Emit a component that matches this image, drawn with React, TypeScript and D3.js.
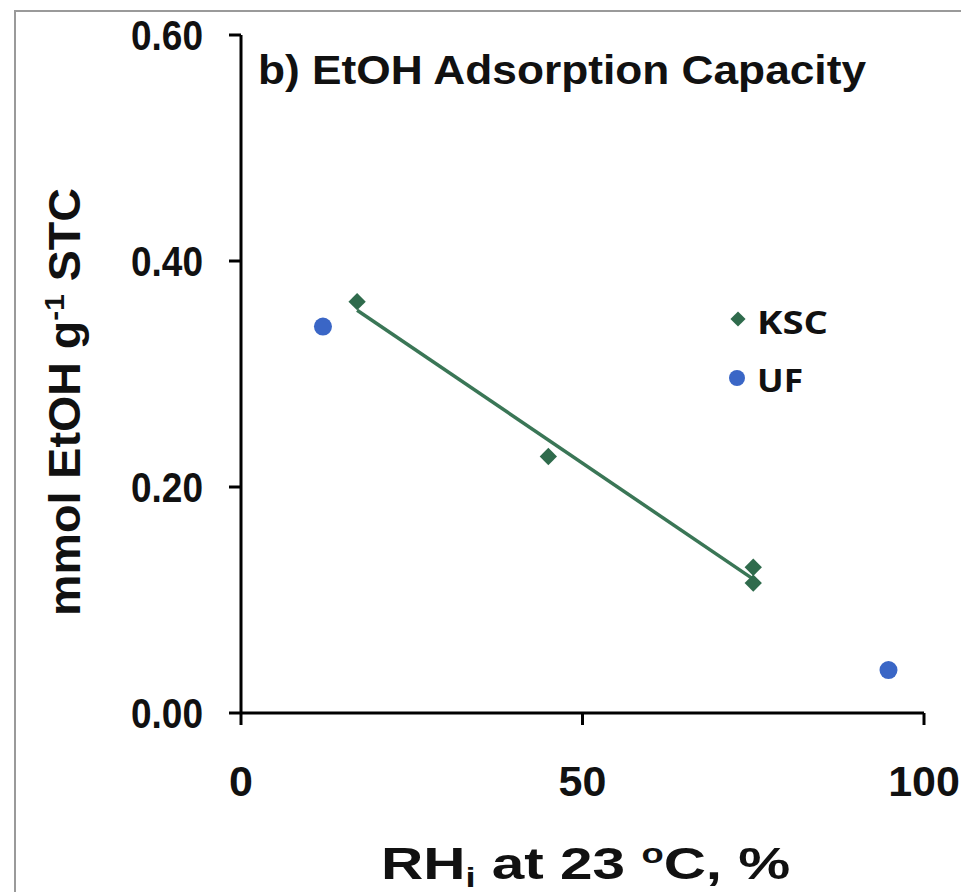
import React from "react";
import * as d3 from "d3";

const kscX = [17, 45, 75, 75];
const kscY = [0.364, 0.227, 0.129, 0.115];
const ufX = [12, 94.8];
const ufY = [0.342, 0.038];
const xTicks = [0, 50, 100];
const yTicks = [0, 0.2, 0.4, 0.6];
const legendLabels = ["KSC", "UF"];

const W = 961;
const H = 892;
const GREEN = "#2f6b4c";
const BLUE = "#3a66c6";
const FONT = "'Liberation Sans', Arial, sans-serif";
const LFONT = "'Open Sans', 'Liberation Sans', sans-serif";

export default function App() {
  const x = d3.scaleLinear().domain([0, 100]).range([241, 924]);
  const y = d3.scaleLinear().domain([0, 0.6]).range([713, 35]);

  // linear regression for KSC trend line
  const n = kscX.length;
  const mx = d3.mean(kscX) as number;
  const my = d3.mean(kscY) as number;
  let sxy = 0, sxx = 0;
  for (let i = 0; i < n; i++) {
    sxy += (kscX[i] - mx) * (kscY[i] - my);
    sxx += (kscX[i] - mx) ** 2;
  }
  const slope = sxy / sxx;
  const icpt = my - slope * mx;
  const [x0, x1] = d3.extent(kscX) as [number, number];
  const lineGen = d3
    .line<number>()
    .x((d) => x(d))
    .y((d) => y(icpt + slope * d));

  const diamond = d3.symbol().type(d3.symbolSquare).size(150)() as string;
  const diamondL = d3.symbol().type(d3.symbolSquare).size(115)() as string;

  return (
    <svg
      width={W}
      height={H}
      style={{ position: "absolute", left: 0, top: 0, display: "block", background: "#fff" }}
    >
      <rect x={0} y={0} width={W} height={H} fill="#fff" />
      {/* scan border */}
      <path d={`M15,${H} L15,11 L${W},11`} fill="none" stroke="#9a9a9a" strokeWidth={2} />

      {/* axes */}
      <line x1={x(0)} x2={x(100)} y1={y(0)} y2={y(0)} stroke="#000" strokeWidth={3} />
      <line x1={x(0)} x2={x(0)} y1={y(0)} y2={y(0.6)} stroke="#000" strokeWidth={3} />
      {xTicks.map((t) => (
        <g key={"xt" + t}>
          <line x1={x(t)} x2={x(t)} y1={y(0)} y2={y(0) + 12} stroke="#000" strokeWidth={3} />
          <text
            x={x(t)}
            y={796}
            textAnchor="middle"
            fontFamily={FONT}
            fontWeight="bold"
            fontSize={43}
            fill="#111"
          >
            {t}
          </text>
        </g>
      ))}
      {yTicks.map((t) => (
        <g key={"yt" + t}>
          <line x1={x(0) - 12} x2={x(0)} y1={y(t)} y2={y(t)} stroke="#000" strokeWidth={3} />
          <text
            x={203}
            y={y(t) + 15}
            textAnchor="end"
            fontFamily={FONT}
            fontWeight="bold"
            fontSize={43}
            fill="#111"
            textLength={72}
            lengthAdjust="spacingAndGlyphs"
          >
            {t.toFixed(2)}
          </text>
        </g>
      ))}

      {/* title */}
      <text
        x={258}
        y={84}
        fontFamily={FONT}
        fontWeight="bold"
        fontSize={40}
        fill="#111"
        textLength={608}
        lengthAdjust="spacingAndGlyphs"
      >
        b) EtOH Adsorption Capacity
      </text>

      {/* x-axis title */}
      <g transform="translate(381,879) scale(1.3,1)">
        <text x={0} y={0} fontFamily={FONT} fontWeight="bold" fontSize={45} fill="#111">
          RH
          <tspan fontSize={28} dy={8}>i</tspan>
          <tspan dy={-8}> at 23 </tspan>
          <tspan fontSize={28} dy={-16}>o</tspan>
          <tspan dy={16}>C, %</tspan>
        </text>
      </g>

      {/* y-axis title */}
      <g transform="translate(80,616) rotate(-90) scale(1.06,1)">
        <text x={0} y={0} fontFamily={FONT} fontWeight="bold" fontSize={44} fill="#111">
          mmol EtOH g
          <tspan fontSize={28} dy={-16}>-1</tspan>
          <tspan dy={16}> STC</tspan>
        </text>
      </g>

      {/* trend line */}
      <path d={lineGen([x0, x1]) as string} fill="none" stroke="#3a7656" strokeWidth={3.5} />

      {/* KSC points */}
      {kscX.map((v, i) => (
        <path
          key={"k" + i}
          d={diamond}
          transform={`translate(${x(v)},${y(kscY[i])}) rotate(45)`}
          fill={GREEN}
        />
      ))}
      {/* UF points */}
      {ufX.map((v, i) => (
        <circle key={"u" + i} cx={x(v)} cy={y(ufY[i])} r={9} fill={BLUE} />
      ))}

      {/* legend */}
      <path d={diamondL} transform="translate(738,319) rotate(45)" fill={GREEN} />
      <text
        x={757}
        y={334}
        fontFamily={LFONT}
        fontWeight="bold"
        fontSize={33}
        fill="#111"
        textLength={71}
        lengthAdjust="spacingAndGlyphs"
      >
        {legendLabels[0]}
      </text>
      <circle cx={737} cy={378} r={8} fill={BLUE} />
      <text
        x={757}
        y={392}
        fontFamily={LFONT}
        fontWeight="bold"
        fontSize={33}
        fill="#111"
        textLength={46}
        lengthAdjust="spacingAndGlyphs"
      >
        {legendLabels[1]}
      </text>
    </svg>
  );
}
